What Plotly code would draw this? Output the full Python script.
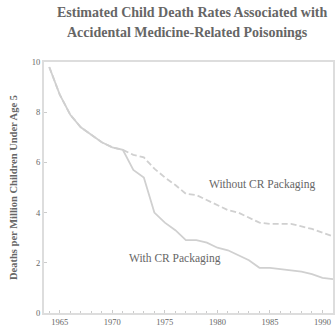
import plotly.graph_objects as go

years = list(range(1964, 1992))
without_cr = [9.8, 8.7, 7.9, 7.4, 7.1, 6.8, 6.6, 6.5,
              6.3, 6.2, 5.75, 5.4, 5.1, 4.75, 4.7, 4.5, 4.3, 4.1, 4.0, 3.8,
              3.6, 3.55, 3.55, 3.55, 3.45, 3.35, 3.2, 3.05]
with_cr = [9.8, 8.7, 7.9, 7.4, 7.1, 6.8, 6.6, 6.5,
           5.7, 5.4, 4.0, 3.6, 3.3, 2.9, 2.9, 2.8, 2.6, 2.5, 2.3, 2.1,
           1.8, 1.8, 1.75, 1.7, 1.65, 1.55, 1.4, 1.35]
x_ticks = [1965, 1970, 1975, 1980, 1985, 1990]
y_ticks = [0, 2, 4, 6, 8, 10]

line_col = "#d0d0d0"
axis_col = "#dddddd"
text_col = "#666666"
serif = "Liberation Serif"

W, H = 335, 329
ML, MR, MT, MB = 44, 2, 62, 16
plot_h = H - MT - MB


def py(pix):
    """pixel row -> paper y"""
    return (H - MB - pix) / plot_h


fig = go.Figure()
fig.add_trace(go.Scatter(x=years, y=with_cr, mode="lines",
                         line=dict(color=line_col, width=1.8), showlegend=False))
fig.add_trace(go.Scatter(x=years, y=without_cr, mode="lines",
                         line=dict(color=line_col, width=1.8, dash="6px,3px"), showlegend=False))

fig.update_layout(
    width=W, height=H,
    margin=dict(l=ML, r=MR, t=MT, b=MB, autoexpand=False),
    paper_bgcolor="white", plot_bgcolor="white",
    font=dict(family=serif, color=text_col),
    annotations=[
        dict(text="<b>Estimated Child Death Rates Associated with</b>",
             x=(192 - ML) / (W - ML - MR), y=py(13), xref="paper", yref="paper",
             xanchor="center", yanchor="middle", showarrow=False, font=dict(size=14)),
        dict(text="<b>Accidental Medicine-Related Poisonings</b>",
             x=(187 - ML) / (W - ML - MR), y=py(32), xref="paper", yref="paper",
             xanchor="center", yanchor="middle", showarrow=False, font=dict(size=14)),
        dict(text="Without CR Packaging", x=1984.2, y=5.1, xref="x", yref="y",
             showarrow=False, font=dict(size=11.5)),
        dict(text="With CR Packaging", x=1976.0, y=2.19, xref="x", yref="y",
             showarrow=False, font=dict(size=11.5)),
    ],
)

fig.update_xaxes(range=[1963.5, 1991], tickvals=x_ticks, ticks="inside", ticklen=3,
                 tickcolor="#cccccc", showline=True, linecolor=axis_col, linewidth=2,
                 mirror=True, showgrid=False, zeroline=False, automargin=False,
                 tickfont=dict(size=8.5, family=serif, color=text_col),
                 minor=dict(dtick=1, ticks="inside", ticklen=2, tickcolor="#cccccc"))
fig.update_yaxes(range=[0, 10], tickvals=y_ticks, ticks="inside", ticklen=3,
                 tickcolor="#cccccc", showline=True, linecolor=axis_col, linewidth=2,
                 mirror=True, showgrid=False, zeroline=False, automargin=False,
                 tickfont=dict(size=8.5, family=serif, color=text_col),
                 title=dict(text="<b>Deaths per Million Children Under Age 5</b>",
                            font=dict(size=10.5, family=serif, color=text_col), standoff=12))

fig.write_html("out.html", config={"displayModeBar": False},
               post_script="document.body.style.margin='0';document.body.style.overflow='hidden';")
